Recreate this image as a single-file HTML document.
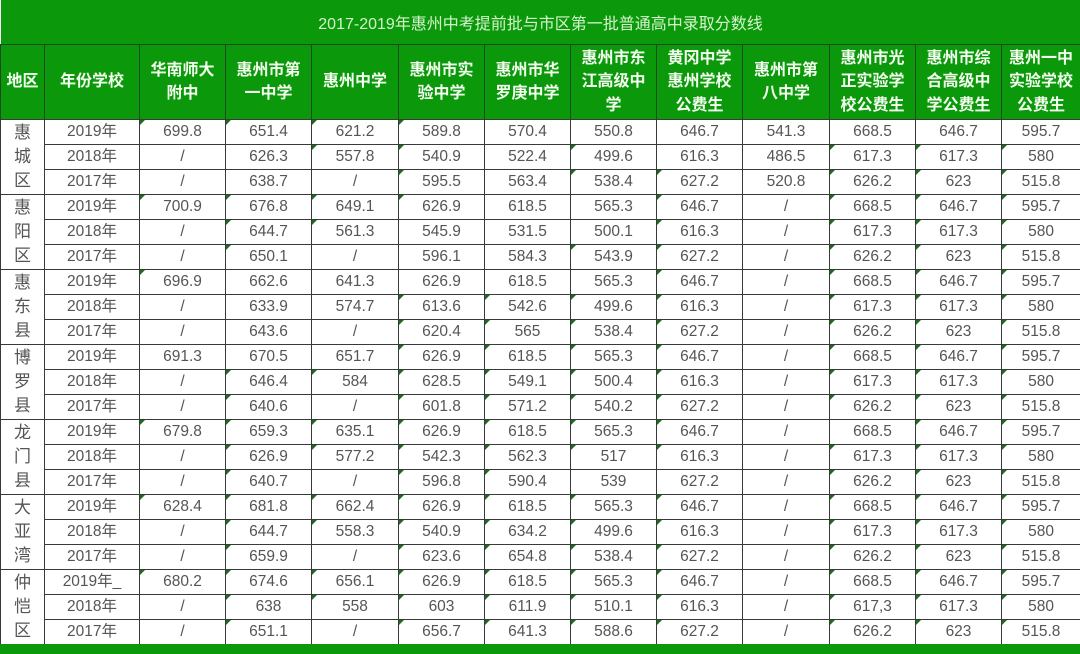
<!DOCTYPE html>
<html>
<head>
<meta charset="utf-8">
<style>
html,body{margin:0;padding:0;background:#fff;}
body{width:1080px;height:654px;overflow:hidden;position:relative;}
table{border-collapse:collapse;table-layout:fixed;width:1080px;position:absolute;left:0;top:0;}
td{padding:0;text-align:center;vertical-align:middle;overflow:hidden;white-space:nowrap;}
.title{height:44px;background:#0b990b;color:#d4f4cc;font-family:"Liberation Sans","Noto Sans CJK SC",sans-serif;font-size:16px;border-bottom:1px solid #1d4a1d;}
.hd td{height:74px;background:#0b990b;color:#f4fff0;font-weight:bold;font-family:"Liberation Sans","Noto Sans CJK SC",sans-serif;font-size:16px;line-height:23.5px;border-left:1px solid #1d4a1d;border-right:1px solid #1d4a1d;}
.b td{height:24px;line-height:18px;color:#555;font-family:"Liberation Sans","Noto Sans CJK SC",sans-serif;font-size:15.5px;border:1px solid #3a3a3a;position:relative;}
.b td.r{font-size:17px;line-height:24px;color:#555;}
td.t::before{content:"";position:absolute;left:0;top:0;width:0;height:0;border-top:5px solid #1e6b1e;border-right:5px solid transparent;}
.foot{position:absolute;left:0;top:644px;width:1080px;height:10px;background:#0b990b;}
</style>
</head>
<body>
<table>
<colgroup>
<col style="width:44px"><col style="width:95px"><col style="width:86px"><col style="width:86px"><col style="width:87px"><col style="width:86px"><col style="width:86px"><col style="width:86px"><col style="width:86px"><col style="width:87px"><col style="width:86px"><col style="width:86px"><col style="width:79px">
</colgroup>
<tr><td class="title" colspan="13">2017-2019年惠州中考提前批与市区第一批普通高中录取分数线</td></tr>
<tr class="hd">
<td>地区</td><td>年份学校</td><td>华南师大<br>附中</td><td>惠州市第<br>一中学</td><td>惠州中学</td><td>惠州市实<br>验中学</td><td>惠州市华<br>罗庚中学</td><td>惠州市东<br>江高级中<br>学</td><td>黄冈中学<br>惠州学校<br>公费生</td><td>惠州市第<br>八中学</td><td>惠州市光<br>正实验学<br>校公费生</td><td>惠州市综<br>合高级中<br>学公费生</td><td>惠州一中<br>实验学校<br>公费生</td>
</tr>

<tr class="b"><td class="r" rowspan="3">惠<br>城<br>区</td><td>2019年</td><td class="t">699.8</td><td class="t">651.4</td><td class="t">621.2</td><td class="t">589.8</td><td>570.4</td><td>550.8</td><td>646.7</td><td>541.3</td><td>668.5</td><td>646.7</td><td>595.7</td></tr>
<tr class="b"><td>2018年</td><td>/</td><td>626.3</td><td class="t">557.8</td><td class="t">540.9</td><td>522.4</td><td class="t">499.6</td><td>616.3</td><td>486.5</td><td class="t">617.3</td><td class="t">617.3</td><td class="t">580</td></tr>
<tr class="b"><td>2017年</td><td>/</td><td>638.7</td><td>/</td><td class="t">595.5</td><td>563.4</td><td class="t">538.4</td><td class="t">627.2</td><td>520.8</td><td class="t">626.2</td><td class="t">623</td><td class="t">515.8</td></tr>

<tr class="b"><td class="r" rowspan="3">惠<br>阳<br>区</td><td>2019年</td><td class="t">700.9</td><td class="t">676.8</td><td class="t">649.1</td><td class="t">626.9</td><td>618.5</td><td>565.3</td><td class="t">646.7</td><td>/</td><td class="t">668.5</td><td class="t">646.7</td><td class="t">595.7</td></tr>
<tr class="b"><td>2018年</td><td>/</td><td class="t">644.7</td><td class="t">561.3</td><td>545.9</td><td>531.5</td><td>500.1</td><td class="t">616.3</td><td>/</td><td class="t">617.3</td><td class="t">617.3</td><td class="t">580</td></tr>
<tr class="b"><td>2017年</td><td>/</td><td class="t">650.1</td><td>/</td><td>596.1</td><td>584.3</td><td class="t">543.9</td><td class="t">627.2</td><td>/</td><td class="t">626.2</td><td class="t">623</td><td class="t">515.8</td></tr>

<tr class="b"><td class="r" rowspan="3">惠<br>东<br>县</td><td>2019年</td><td class="t">696.9</td><td>662.6</td><td>641.3</td><td>626.9</td><td>618.5</td><td>565.3</td><td class="t">646.7</td><td>/</td><td class="t">668.5</td><td class="t">646.7</td><td class="t">595.7</td></tr>
<tr class="b"><td>2018年</td><td>/</td><td>633.9</td><td>574.7</td><td class="t">613.6</td><td class="t">542.6</td><td class="t">499.6</td><td class="t">616.3</td><td>/</td><td class="t">617.3</td><td class="t">617.3</td><td class="t">580</td></tr>
<tr class="b"><td>2017年</td><td>/</td><td>643.6</td><td>/</td><td class="t">620.4</td><td class="t">565</td><td class="t">538.4</td><td class="t">627.2</td><td>/</td><td class="t">626.2</td><td class="t">623</td><td class="t">515.8</td></tr>

<tr class="b"><td class="r" rowspan="3">博<br>罗<br>县</td><td>2019年</td><td>691.3</td><td>670.5</td><td>651.7</td><td class="t">626.9</td><td class="t">618.5</td><td class="t">565.3</td><td class="t">646.7</td><td>/</td><td class="t">668.5</td><td class="t">646.7</td><td class="t">595.7</td></tr>
<tr class="b"><td>2018年</td><td>/</td><td class="t">646.4</td><td class="t">584</td><td class="t">628.5</td><td class="t">549.1</td><td class="t">500.4</td><td class="t">616.3</td><td>/</td><td class="t">617.3</td><td class="t">617.3</td><td class="t">580</td></tr>
<tr class="b"><td>2017年</td><td>/</td><td class="t">640.6</td><td>/</td><td class="t">601.8</td><td class="t">571.2</td><td class="t">540.2</td><td class="t">627.2</td><td>/</td><td class="t">626.2</td><td class="t">623</td><td class="t">515.8</td></tr>

<tr class="b"><td class="r" rowspan="3">龙<br>门<br>县</td><td>2019年</td><td class="t">679.8</td><td class="t">659.3</td><td class="t">635.1</td><td class="t">626.9</td><td class="t">618.5</td><td class="t">565.3</td><td class="t">646.7</td><td>/</td><td>668.5</td><td class="t">646.7</td><td class="t">595.7</td></tr>
<tr class="b"><td>2018年</td><td>/</td><td class="t">626.9</td><td class="t">577.2</td><td class="t">542.3</td><td class="t">562.3</td><td class="t">517</td><td class="t">616.3</td><td>/</td><td class="t">617.3</td><td class="t">617.3</td><td class="t">580</td></tr>
<tr class="b"><td>2017年</td><td>/</td><td class="t">640.7</td><td>/</td><td class="t">596.8</td><td class="t">590.4</td><td>539</td><td>627.2</td><td>/</td><td class="t">626.2</td><td class="t">623</td><td class="t">515.8</td></tr>

<tr class="b"><td class="r" rowspan="3">大<br>亚<br>湾</td><td>2019年</td><td class="t">628.4</td><td class="t">681.8</td><td class="t">662.4</td><td class="t">626.9</td><td class="t">618.5</td><td class="t">565.3</td><td class="t">646.7</td><td>/</td><td class="t">668.5</td><td class="t">646.7</td><td class="t">595.7</td></tr>
<tr class="b"><td>2018年</td><td>/</td><td class="t">644.7</td><td class="t">558.3</td><td class="t">540.9</td><td class="t">634.2</td><td class="t">499.6</td><td class="t">616.3</td><td>/</td><td class="t">617.3</td><td class="t">617.3</td><td class="t">580</td></tr>
<tr class="b"><td>2017年</td><td>/</td><td class="t">659.9</td><td>/</td><td class="t">623.6</td><td class="t">654.8</td><td class="t">538.4</td><td class="t">627.2</td><td>/</td><td class="t">626.2</td><td class="t">623</td><td class="t">515.8</td></tr>

<tr class="b"><td class="r" rowspan="3">仲<br>恺<br>区</td><td>2019年_</td><td class="t">680.2</td><td class="t">674.6</td><td class="t">656.1</td><td class="t">626.9</td><td class="t">618.5</td><td class="t">565.3</td><td class="t">646.7</td><td>/</td><td class="t">668.5</td><td class="t">646.7</td><td class="t">595.7</td></tr>
<tr class="b"><td>2018年</td><td>/</td><td class="t">638</td><td class="t">558</td><td class="t">603</td><td class="t">611.9</td><td class="t">510.1</td><td class="t">616.3</td><td>/</td><td class="t">617,3</td><td class="t">617.3</td><td class="t">580</td></tr>
<tr class="b"><td>2017年</td><td>/</td><td class="t">651.1</td><td>/</td><td class="t">656.7</td><td class="t">641.3</td><td class="t">588.6</td><td class="t">627.2</td><td>/</td><td class="t">626.2</td><td class="t">623</td><td class="t">515.8</td></tr>
</table>
<div class="foot"></div>
</body>
</html>
